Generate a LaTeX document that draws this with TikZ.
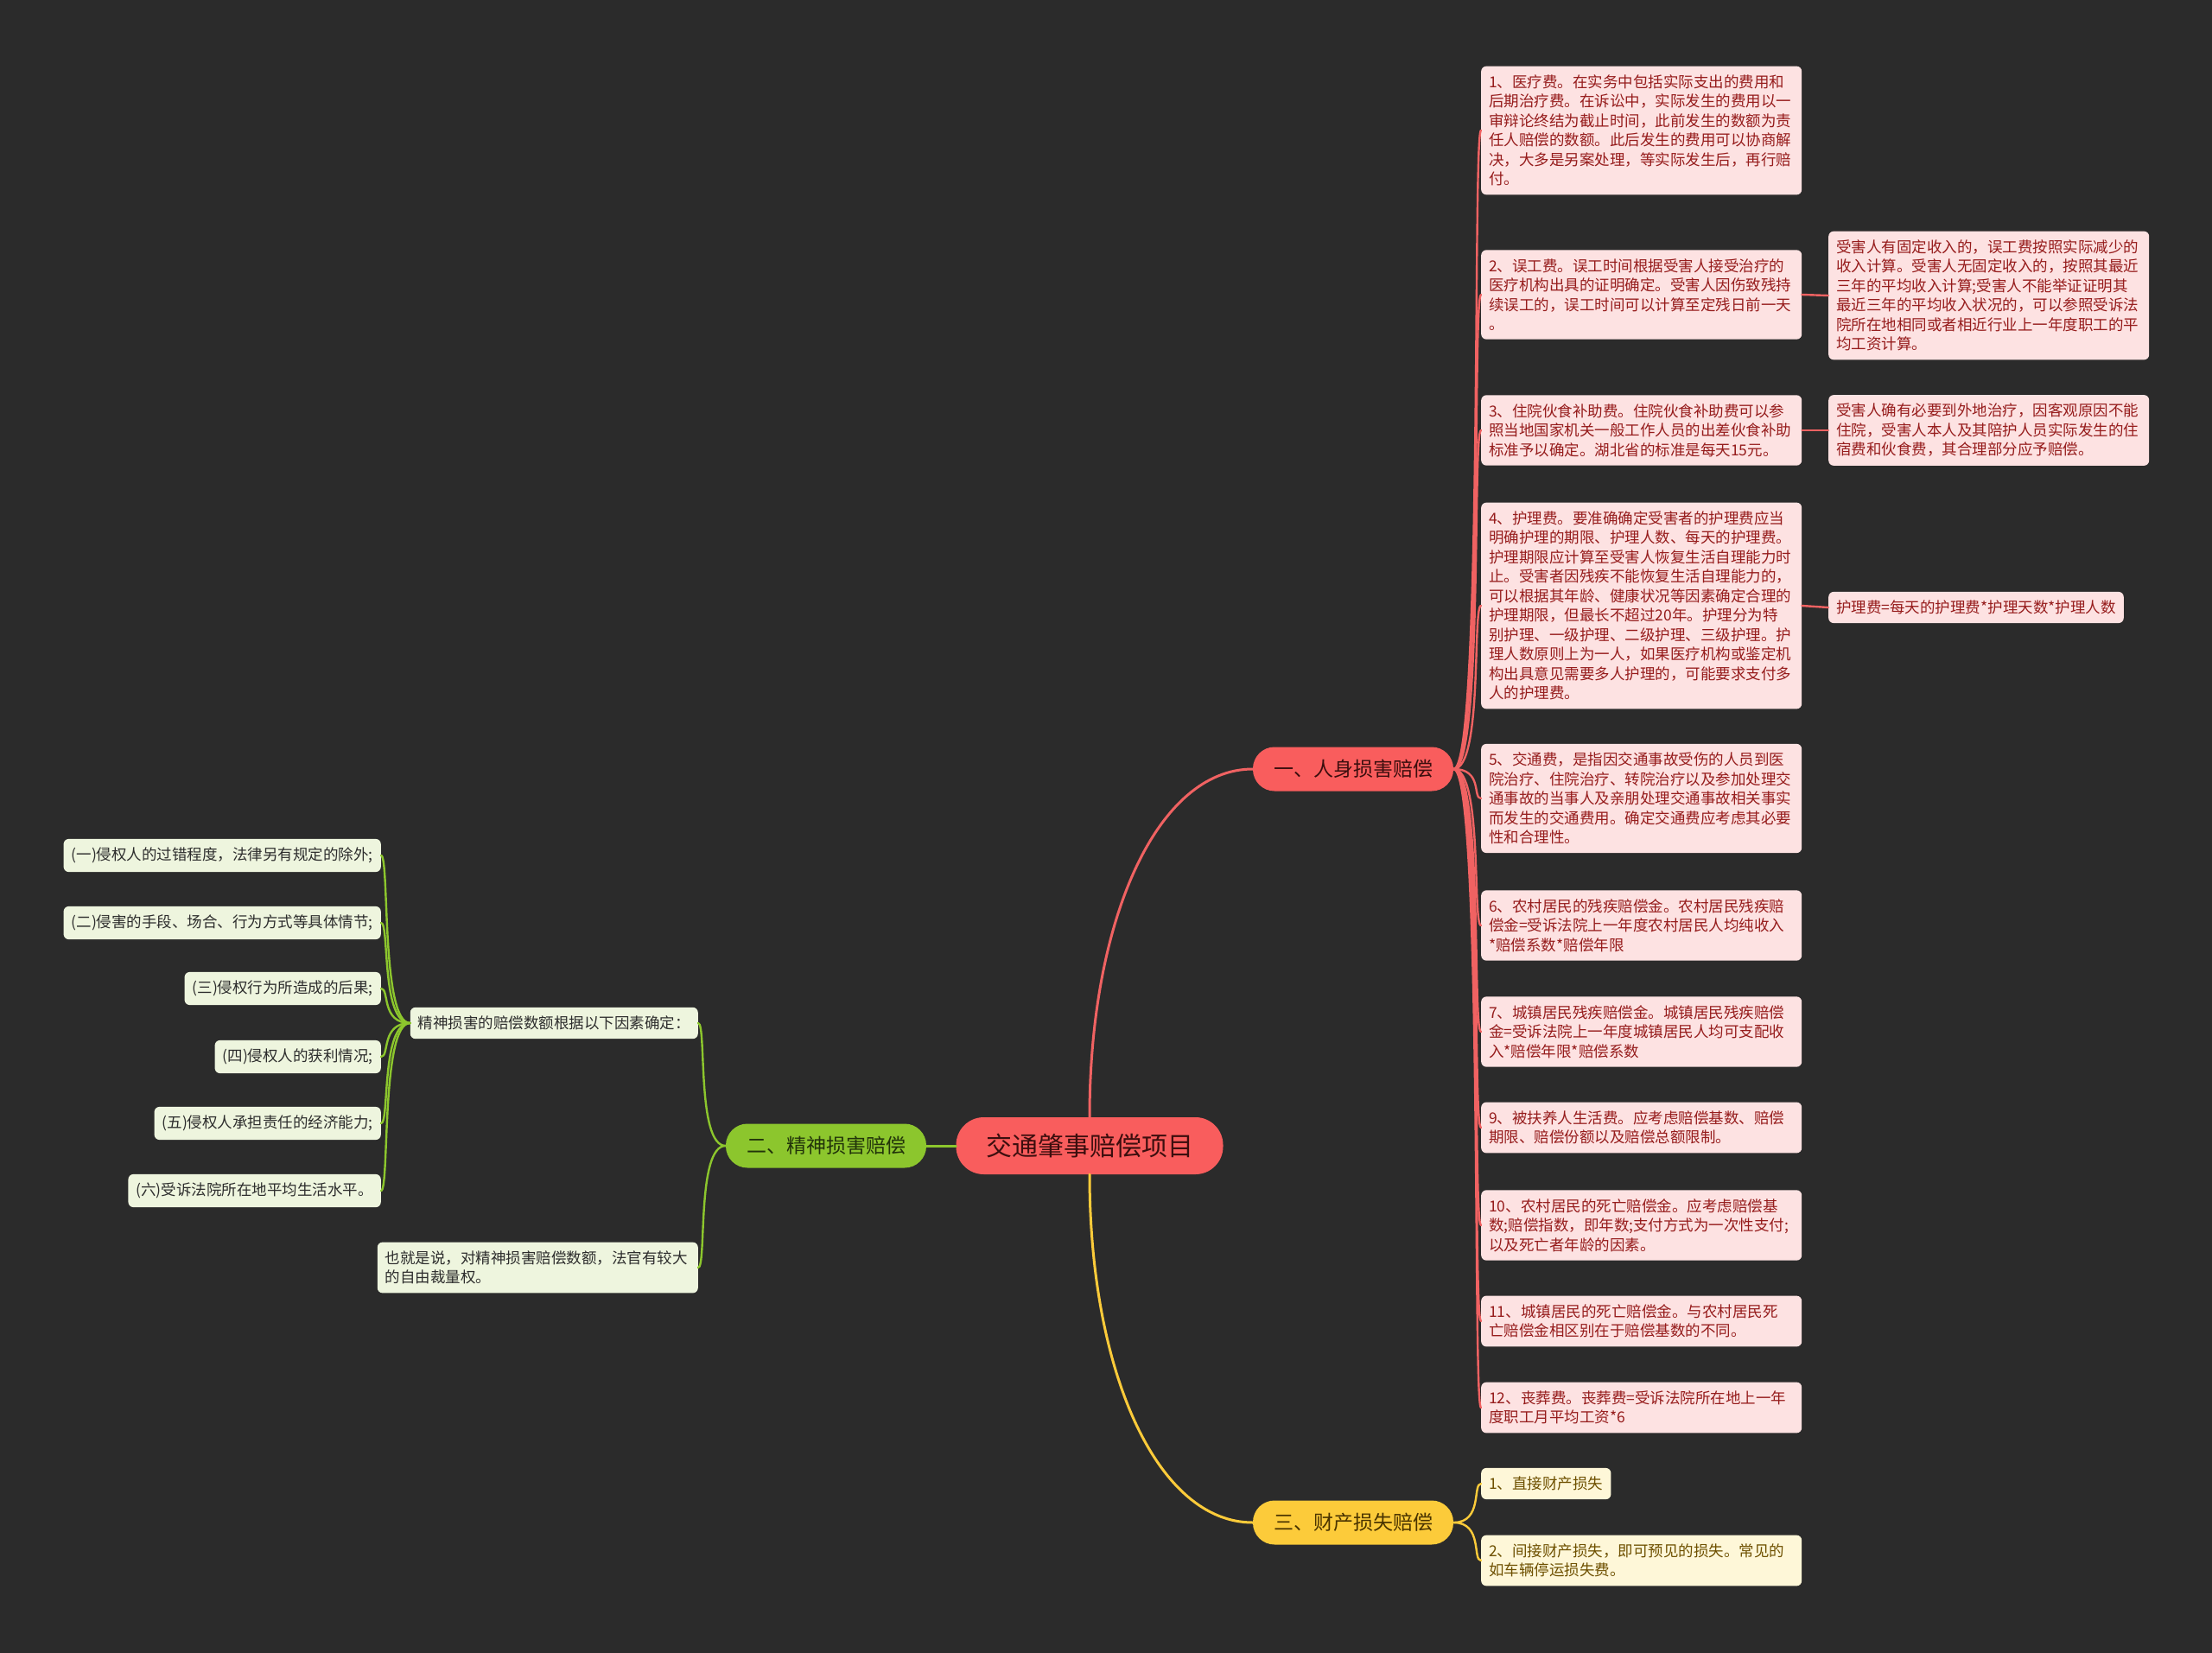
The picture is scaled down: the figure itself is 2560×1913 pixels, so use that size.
\documentclass[tikz,border=0pt]{standalone}
\usepackage{fontspec}
\setmainfont{Noto Sans CJK SC}
\usepackage{tikz}
\usetikzlibrary{positioning}
\definecolor{bgdark}{RGB}{43,43,43}
\definecolor{rootred}{RGB}{249,93,93}
\definecolor{roottext}{RGB}{60,14,14}
\definecolor{linered}{RGB}{240,98,98}
\definecolor{pinkfill}{RGB}{253,226,226}
\definecolor{pinktext}{RGB}{150,28,28}
\definecolor{leafgreen}{RGB}{140,198,45}
\definecolor{greentext}{RGB}{34,52,10}
\definecolor{greenfill}{RGB}{238,245,222}
\definecolor{notetext}{RGB}{45,45,45}
\definecolor{sunyellow}{RGB}{252,203,58}
\definecolor{yellowtext}{RGB}{74,52,0}
\definecolor{yellowfill}{RGB}{254,247,216}
\definecolor{yellowleaf}{RGB}{110,80,0}

\begin{document}
\begin{tikzpicture}[x=1pt,y=-1pt,
	note/.style={rounded corners=6pt,inner xsep=9pt,inner ysep=10pt,align=left,font=\fontsize{17.5}{22.5}\selectfont},
	wide/.style={text width=353pt},
	redleaf/.style={note,fill=pinkfill,text=pinktext},
	greenleaf/.style={note,fill=greenfill,text=notetext},
	yellowleaf/.style={note,fill=yellowfill,text=yellowleaf},
	branch/.style={rounded corners=25pt,minimum width=232pt,minimum height=51pt,inner sep=0pt,font=\fontsize{23}{23}\selectfont},
	thick line/.style={line width=3pt,line cap=round},
	thin line/.style={line width=2.4pt,line cap=round}]
		\useasboundingbox (0,0) rectangle (2560,1913);
		\fill[bgdark] (0,0) rectangle (2560,1913);
		% centre and main branches
		\node[fill=rootred,text=roottext,rounded corners=32pt,minimum width=309pt,minimum height=66pt,inner sep=0pt,font=\fontsize{30}{30}\selectfont] (root) at (1261,1326) {交通肇事赔偿项目};
		\node[branch,fill=rootred,text=roottext] (b1) at (1566,890) {一、人身损害赔偿};
		\node[branch,fill=leafgreen,text=greentext] (b2) at (956,1326) {二、精神损害赔偿};
		\node[branch,fill=sunyellow,text=yellowtext] (b3) at (1566,1762) {三、财产损失赔偿};
		% personal injury items
		\node[redleaf,wide,anchor=west] (r1) at (1714,151) {1、医疗费。在实务中包括实际支出的费用和\\后期治疗费。在诉讼中，实际发生的费用以一\\审辩论终结为截止时间，此前发生的数额为责\\任人赔偿的数额。此后发生的费用可以协商解\\决，大多是另案处理，等实际发生后，再行赔\\付。};
		\node[redleaf,wide,anchor=west] (r2) at (1714,341) {2、误工费。误工时间根据受害人接受治疗的\\医疗机构出具的证明确定。受害人因伤致残持\\续误工的，误工时间可以计算至定残日前一天\\。};
		\node[redleaf,wide,anchor=west] (r3) at (1714,498) {3、住院伙食补助费。住院伙食补助费可以参\\照当地国家机关一般工作人员的出差伙食补助\\标准予以确定。湖北省的标准是每天15元。};
		\node[redleaf,wide,anchor=west] (r4) at (1714,701) {4、护理费。要准确确定受害者的护理费应当\\明确护理的期限、护理人数、每天的护理费。\\护理期限应计算至受害人恢复生活自理能力时\\止。受害者因残疾不能恢复生活自理能力的，\\可以根据其年龄、健康状况等因素确定合理的\\护理期限，但最长不超过20年。护理分为特\\别护理、一级护理、二级护理、三级护理。护\\理人数原则上为一人，如果医疗机构或鉴定机\\构出具意见需要多人护理的，可能要求支付多\\人的护理费。};
		\node[redleaf,wide,anchor=west] (r5) at (1714,924) {5、交通费，是指因交通事故受伤的人员到医\\院治疗、住院治疗、转院治疗以及参加处理交\\通事故的当事人及亲朋处理交通事故相关事实\\而发生的交通费用。确定交通费应考虑其必要\\性和合理性。};
		\node[redleaf,wide,anchor=west] (r6) at (1714,1071) {6、农村居民的残疾赔偿金。农村居民残疾赔\\偿金=受诉法院上一年度农村居民人均纯收入\\{}*赔偿系数*赔偿年限};
		\node[redleaf,wide,anchor=west] (r7) at (1714,1194) {7、城镇居民残疾赔偿金。城镇居民残疾赔偿\\金=受诉法院上一年度城镇居民人均可支配收\\入*赔偿年限*赔偿系数};
		\node[redleaf,wide,anchor=west] (r9) at (1714,1305) {9、被扶养人生活费。应考虑赔偿基数、赔偿\\期限、赔偿份额以及赔偿总额限制。};
		\node[redleaf,wide,anchor=west] (r10) at (1714,1418) {10、农村居民的死亡赔偿金。应考虑赔偿基\\数;赔偿指数，即年数;支付方式为一次性支付;\\以及死亡者年龄的因素。};
		\node[redleaf,wide,anchor=west] (r11) at (1714,1529) {11、城镇居民的死亡赔偿金。与农村居民死\\亡赔偿金相区别在于赔偿基数的不同。};
		\node[redleaf,wide,anchor=west] (r12) at (1714,1629) {12、丧葬费。丧葬费=受诉法院所在地上一年\\度职工月平均工资*6};
		\node[redleaf,wide,anchor=west] (s2) at (2116,342) {受害人有固定收入的，误工费按照实际减少的\\收入计算。受害人无固定收入的，按照其最近\\三年的平均收入计算;受害人不能举证证明其\\最近三年的平均收入状况的，可以参照受诉法\\院所在地相同或者相近行业上一年度职工的平\\均工资计算。};
		\node[redleaf,wide,anchor=west] (s3) at (2116,498) {受害人确有必要到外地治疗，因客观原因不能\\住院，受害人本人及其陪护人员实际发生的住\\宿费和伙食费，其合理部分应予赔偿。};
		\node[redleaf,anchor=west] (s4) at (2116,703) {护理费=每天的护理费*护理天数*护理人数};
		% property loss
		\node[yellowleaf,anchor=west] (y1) at (1714,1717) {1、直接财产损失};
		\node[yellowleaf,wide,anchor=west] (y2) at (1714,1806) {2、间接财产损失，即可预见的损失。常见的\\如车辆停运损失费。};
		% mental damage
		\node[greenleaf,anchor=east] (g1) at (808,1184) {精神损害的赔偿数额根据以下因素确定：};
		\node[greenleaf,wide,anchor=east] (g2) at (808,1467) {也就是说，对精神损害赔偿数额，法官有较大\\的自由裁量权。};
		\node[greenleaf,anchor=east] (f1) at (441,990) {(一)侵权人的过错程度，法律另有规定的除外;};
		\node[greenleaf,anchor=east] (f2) at (441,1068) {(二)侵害的手段、场合、行为方式等具体情节;};
		\node[greenleaf,anchor=east] (f3) at (441,1144) {(三)侵权行为所造成的后果;};
		\node[greenleaf,anchor=east] (f4) at (441,1223) {(四)侵权人的获利情况;};
		\node[greenleaf,anchor=east] (f5) at (441,1300) {(五)侵权人承担责任的经济能力;};
		\node[greenleaf,anchor=east] (f6) at (441,1378) {(六)受诉法院所在地平均生活水平。};
		% connectors
		\draw[thick line,linered] (root.north) .. controls +(0,-230) and +(-110,0) .. (b1.west);
		\draw[thick line,sunyellow] (root.south) .. controls +(0,230) and +(-110,0) .. (b3.west);
		\draw[thick line,leafgreen] (root.west) -- (b2.east);
		\foreach \n in {r1,r2,r3,r4,r5,r6,r7,r9,r10,r11,r12}
			\draw[thin line,linered] (b1.east) .. controls +(34,0) and +(-10,0) .. (\n.west);
		\draw[thin line,linered] (r2.east) -- (s2.west);
		\draw[thin line,linered] (r3.east) -- (s3.west);
		\draw[thin line,linered] (r4.east) -- (s4.west);
		\foreach \n in {y1,y2}
			\draw[thin line,sunyellow] (b3.east) .. controls +(34,0) and +(-10,0) .. (\n.west);
		\foreach \n in {g1,g2}
			\draw[thin line,leafgreen] (b2.west) .. controls +(-34,0) and +(10,0) .. (\n.east);
		\foreach \n in {f1,f2,f3,f4,f5,f6}
			\draw[thin line,leafgreen] (g1.west) .. controls +(-34,0) and +(10,0) .. (\n.east);
\end{tikzpicture}
\end{document}
